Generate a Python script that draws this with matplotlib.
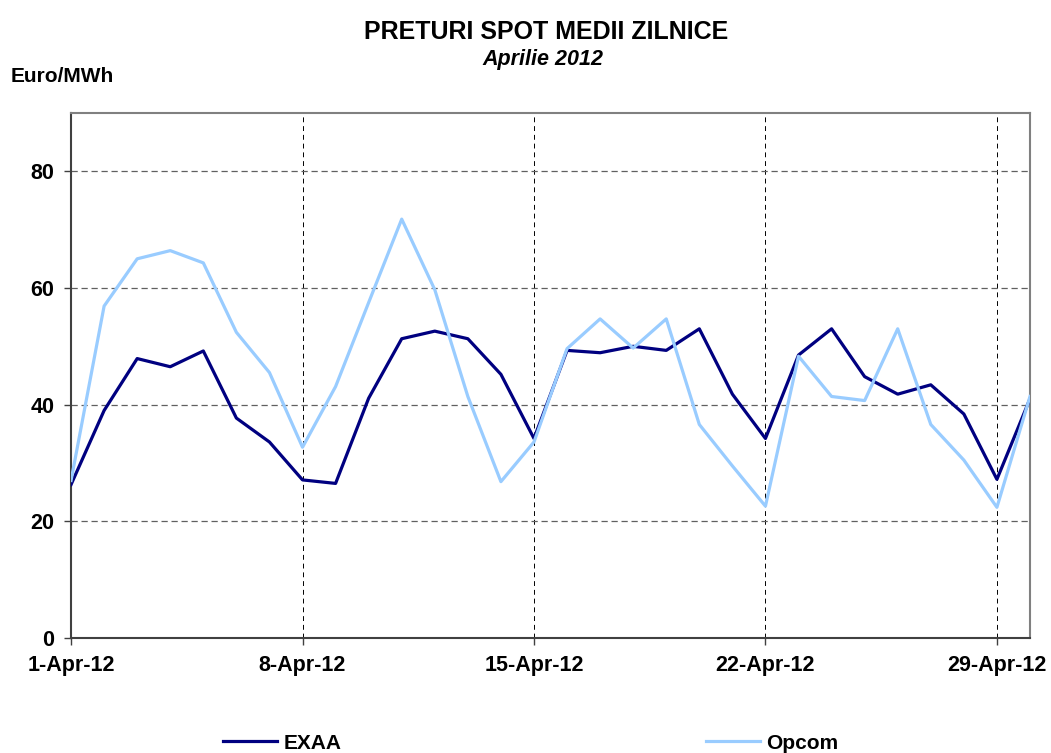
import numpy as np
import pandas as pd
import matplotlib
matplotlib.use("Agg")
import matplotlib.pyplot as plt
import matplotlib.dates as mdates

plt.rcParams['font.family'] = ['Liberation Sans', 'DejaVu Sans']

## daily average spot prices, April 2012 (Euro/MWh)
days = pd.date_range("2012-04-01", "2012-04-30", freq="D")
exaa = [26.3, 39.0, 47.9, 46.5, 49.2, 37.7, 33.6, 27.1, 26.5, 41.1,
        51.3, 52.6, 51.3, 45.2, 34.2, 49.3, 48.9, 50.0, 49.3, 53.0,
        41.8, 34.2, 48.5, 53.0, 44.8, 41.8, 43.4, 38.4, 27.2, 41.0]
opcom = [27.0, 56.9, 65.0, 66.4, 64.3, 52.4, 45.5, 32.7, 43.1, 57.5,
         71.8, 59.7, 41.4, 26.8, 33.6, 49.6, 54.7, 49.7, 54.7, 36.6,
         29.5, 22.6, 48.3, 41.4, 40.7, 53.0, 36.6, 30.5, 22.4, 41.4]
tick_days = ["2012-04-01", "2012-04-08", "2012-04-15", "2012-04-22", "2012-04-29"]
tick_labels = ["1-Apr-12", "8-Apr-12", "15-Apr-12", "22-Apr-12", "29-Apr-12"]
y_ticks = [0, 20, 40, 60, 80]

fig = plt.figure(figsize=(10.51, 7.53), dpi=100)
ax = fig.add_axes([0.0676, 0.1527, 0.9124, 0.6973])

ax.plot(days, exaa, color='#000080', lw=2.3, label='EXAA', zorder=3)
ax.plot(days, opcom, color='#99CCFF', lw=2.3, label='Opcom', zorder=4)

ax.set_xlim(days[0], days[-1])
ax.set_ylim(0, 90)
ax.set_yticks(y_ticks)
ax.set_xticks(pd.to_datetime(tick_days))
ax.set_xticklabels(tick_labels)

## grid: gray dashed horizontal, black dashed vertical
ax.yaxis.grid(True, ls=(0, (5, 3)), color='#606060', lw=0.9)
ax.xaxis.grid(True, ls=(0, (5, 4)), color='black', lw=0.7)
ax.set_axisbelow(True)

for s in ['left', 'bottom']:
    ax.spines[s].set_color('#404040')
    ax.spines[s].set_linewidth(1.5)
for s in ['top', 'right']:
    ax.spines[s].set_color('#808080')
    ax.spines[s].set_linewidth(1.5)

ax.tick_params(axis='both', direction='out', length=5, width=1, color='#404040',
               labelsize=15.5, pad=7)
for lab in ax.get_xticklabels() + ax.get_yticklabels():
    lab.set_fontweight('bold')

fig.text(0.52, 0.958, "PRETURI SPOT MEDII ZILNICE", ha='center', va='center',
         fontsize=18, fontweight='bold')
fig.text(0.517, 0.921, "Aprilie 2012", ha='center', va='center',
         fontsize=15.5, fontweight='bold', style='italic')
fig.text(0.01, 0.899, "Euro/MWh", ha='left', va='center', fontsize=15, fontweight='bold')

leg = fig.legend(loc='center', bbox_to_anchor=(0.505, 0.013), ncol=2, frameon=False,
                 prop={'size': 15, 'weight': 'bold'}, handlelength=2.6,
                 columnspacing=17.5, handletextpad=0.3)

fig.savefig("out.png", dpi=100)
